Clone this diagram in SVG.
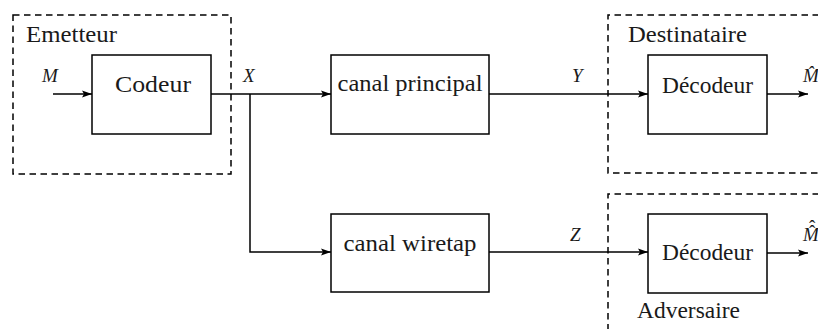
<svg xmlns="http://www.w3.org/2000/svg" width="818" height="329" viewBox="0 0 818 329">
<defs>
<marker id="arr" viewBox="0 0 10 8" refX="10" refY="4" markerWidth="10" markerHeight="8" markerUnits="userSpaceOnUse" orient="auto">
<path d="M0,0.5 L10,4 L0,7.5 L2,4 Z" fill="#000"/>
</marker>
<style>
.box{fill:#fff;stroke:#000;stroke-width:1.5}
.dash{fill:none;stroke:#000;stroke-width:1.5;stroke-dasharray:6.5 4.5}
.ln{fill:none;stroke:#000;stroke-width:1.5}
text{font-family:"Liberation Serif","DejaVu Serif",serif;fill:#1a1a1a}
.t{font-size:23px}
.m{font-size:19px;font-style:italic}
.c{text-anchor:middle}
</style>
</defs>
<rect width="818" height="329" fill="#fff"/>
<g id="emetteur">
<rect class="dash" x="13" y="15" width="218" height="159"/>
<text class="t" x="26" y="42" textLength="91" lengthAdjust="spacingAndGlyphs">Emetteur</text>
</g>
<g id="destinataire">
<path class="dash" d="M830,15 H608 V173 H830"/>
<text class="t" x="628" y="42" textLength="119" lengthAdjust="spacingAndGlyphs">Destinataire</text>
</g>
<g id="adversaire">
<path class="dash" d="M830,194 H608 V340"/>
<text class="t" x="637" y="318" textLength="103" lengthAdjust="spacingAndGlyphs">Adversaire</text>
</g>
<g id="codeur">
<rect class="box" x="92" y="55" width="119" height="79"/>
<text class="t c" x="153" y="92" textLength="76" lengthAdjust="spacingAndGlyphs">Codeur</text>
</g>
<g id="canal-principal">
<rect class="box" x="331" y="55" width="158" height="79"/>
<text class="t c" x="410" y="91" textLength="145" lengthAdjust="spacingAndGlyphs">canal principal</text>
</g>
<g id="canal-wiretap">
<rect class="box" x="331" y="214" width="158" height="78"/>
<text class="t c" x="410" y="251" textLength="133" lengthAdjust="spacingAndGlyphs">canal wiretap</text>
</g>
<g id="decodeur-dest">
<rect class="box" x="648" y="55" width="119" height="79"/>
<text class="t c" x="707.5" y="93" textLength="91" lengthAdjust="spacingAndGlyphs">Décodeur</text>
</g>
<g id="decodeur-adv">
<rect class="box" x="648" y="214" width="119" height="79"/>
<text class="t c" x="707.5" y="260" textLength="91" lengthAdjust="spacingAndGlyphs">Décodeur</text>
</g>
<g id="connectors">
<line class="ln" x1="53" y1="94" x2="92" y2="94" marker-end="url(#arr)"/>
<line class="ln" x1="211" y1="94" x2="331" y2="94" marker-end="url(#arr)"/>
<polyline class="ln" points="250,94 250,252 331,252" marker-end="url(#arr)"/>
<line class="ln" x1="489" y1="94" x2="648" y2="94" marker-end="url(#arr)"/>
<line class="ln" x1="489" y1="252" x2="648" y2="252" marker-end="url(#arr)"/>
<line class="ln" x1="767" y1="94" x2="808" y2="94" marker-end="url(#arr)"/>
<line class="ln" x1="767" y1="253" x2="808" y2="253" marker-end="url(#arr)"/>
</g>
<g id="labels">
<text class="m" x="42" y="82">M</text>
<text class="m" x="243" y="82">X</text>
<text class="m" x="572" y="82">Y</text>
<text class="m" x="570" y="241">Z</text>
<text class="m" x="803" y="82">M̂</text>
<text class="m" x="803" y="241">M<tspan x="809" y="238" font-style="normal">ˆ</tspan><tspan x="809" y="233" font-style="normal">ˆ</tspan></text>
</g>
</svg>
